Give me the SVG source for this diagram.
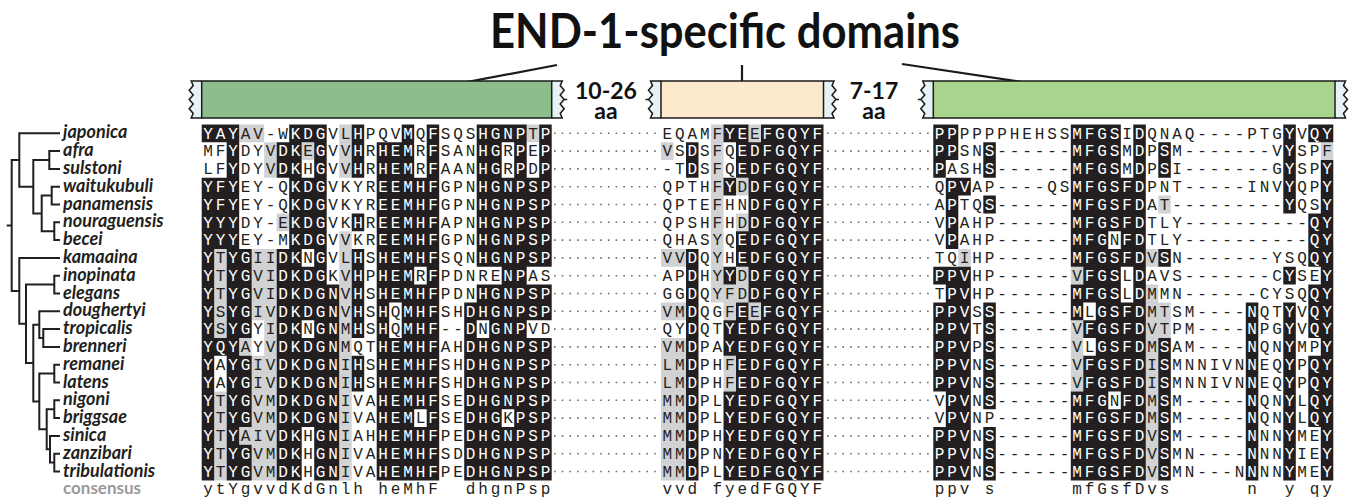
<svg xmlns="http://www.w3.org/2000/svg" width="1356" height="497" viewBox="0 0 1356 497">
<style>
.seq{font-family:"Liberation Mono","DejaVu Sans Mono",monospace;font-size:16px;letter-spacing:2.9px}
.sp{font-family:Lato,"Open Sans","Noto Sans",sans-serif;font-size:18px;font-weight:700;font-style:italic;fill:#231f20}
.cl{font-family:Lato,"Open Sans","Noto Sans",sans-serif;font-size:17px;font-weight:700;fill:#9a9a9a}
.k{fill:#231f20}
.g{fill:#d1d2d4}
.tree{fill:none;stroke:#231f20;stroke-width:2;stroke-linejoin:miter}
.dots{fill:none;stroke:#6d6d6d;stroke-width:1.6;stroke-dasharray:1.6 6.1}
.hd{font-family:Lato,"Open Sans","Noto Sans",sans-serif;font-weight:700;fill:#111}
.bar{stroke:#1a1a1a;stroke-width:1.5}
.cap{fill:#e7f2f7;stroke:#1a1a1a;stroke-width:1.5}
.call{fill:none;stroke:#1a1a1a;stroke-width:2.2}
</style>
<defs>
<path id="cz" d="M0 81H10.5L8.5 85.6L12.5 90.2L8.5 94.9L12.5 99.5L8.5 104.1L12.5 108.7L8.5 113.4L10.5 118H0"/>
<path id="ct" d="M0 81H10.5L8.5 85.6L12.5 90.2L8.5 94.9L12.5 99.5L8.5 104.1L12.5 108.7L8.5 113.4L10.5 118H0M12.5 99.5H15.5"/>
<clipPath id="kc"><use href="#k1"/><use href="#k2"/><use href="#k3"/></clipPath>
</defs>
<rect width="1356" height="497" fill="#fff"/>

<!-- panel letter, cut by the left edge -->
<text x="-22" y="25.5" font-family="Liberation Sans,Arial,sans-serif" font-size="28" font-weight="700" fill="#111">C</text>

<!-- title and callouts -->
<g id="title">
<text class="hd" x="490" y="48" font-size="48" textLength="470" lengthAdjust="spacingAndGlyphs">END-1-specific domains</text>
</g>
<g id="callouts"><path class="call" d="M557 65L377 99M742 65V99M902 64L1135 99"/></g>

<!-- domain bars -->
<g id="domain1">
<use href="#cz" class="cap" transform="translate(201.7 0) scale(-1 1)"/>
<use href="#ct" class="cap" transform="translate(551.7 0)"/>
<rect class="bar" x="201.7" y="81" width="350" height="37" fill="#8dbd8c"/>
</g>
<g id="domain2">
<use href="#ct" class="cap" transform="translate(661 0) scale(-1 1)"/>
<use href="#ct" class="cap" transform="translate(823.5 0)"/>
<rect class="bar" x="661" y="81" width="162.5" height="37" fill="#fde9cb"/>
</g>
<g id="domain3">
<use href="#ct" class="cap" transform="translate(933.3 0) scale(-1 1)"/>
<use href="#cz" class="cap" transform="translate(1335 0)"/>
<rect class="bar" x="933.3" y="81" width="401.7" height="37" fill="#a8d48e"/>
</g>
<g id="gap1">
<text class="hd" x="606" y="99" font-size="23" text-anchor="middle">10-26</text>
<text class="hd" x="606" y="119" font-size="23" text-anchor="middle">aa</text>
</g>
<g id="gap2">
<text class="hd" x="874" y="99" font-size="23" text-anchor="middle">7-17</text>
<text class="hd" x="874" y="119" font-size="23" text-anchor="middle">aa</text>
</g>

<!-- tree -->
<g id="tree">
<path class="tree" d="M6.7 225.4H11.7M19.3 160H11.7V290.9H19.3M60 133.3H19.3V186.7H33.3M49.3 160H33.3V213.4H41.7M60 151.1H49.3V168.9H60M51.7 195.6H41.7V231.2H54.3M60 186.7H51.7V204.5H60M60 222.3H54.3V240.1H60M60 257.9H19.3V323.8H26M54.3 284.6H26V363H33.3M60 275.7H54.3V293.5H60M39.3 324.65H33.3V401.4H39.3M60 311.3H39.3V338H43.3M60 329.1H43.3V346.9H60M54.3 373.6H39.3V429.2H46.7M60 364.7H54.3V382.5H60M54.3 409.2H46.7V449.25H50M60 400.3H54.3V418.1H60M60 435.9H50V462.6H54.3M60 453.7H54.3V471.5H60"/>
</g>

<!-- species names -->
<g id="labels">
<text class="sp" x="63" y="138.3">japonica</text>
<text class="sp" x="63" y="156.1">afra</text>
<text class="sp" x="63" y="173.9">sulstoni</text>
<text class="sp" x="63" y="191.7">waitukubuli</text>
<text class="sp" x="63" y="209.5">panamensis</text>
<text class="sp" x="63" y="227.3">nouraguensis</text>
<text class="sp" x="63" y="245.1">becei</text>
<text class="sp" x="63" y="262.9">kamaaina</text>
<text class="sp" x="63" y="280.7">inopinata</text>
<text class="sp" x="63" y="298.5">elegans</text>
<text class="sp" x="63" y="316.3">doughertyi</text>
<text class="sp" x="63" y="334.1">tropicalis</text>
<text class="sp" x="63" y="351.9">brenneri</text>
<text class="sp" x="63" y="369.7">remanei</text>
<text class="sp" x="63" y="387.5">latens</text>
<text class="sp" x="63" y="405.3">nigoni</text>
<text class="sp" x="63" y="423.1">briggsae</text>
<text class="sp" x="63" y="440.9">sinica</text>
<text class="sp" x="63" y="458.7">zanzibari</text>
<text class="sp" x="63" y="476.5">tribulationis</text>
<text class="cl" x="63" y="494.3">consensus</text>
</g>

<!-- shading: similar residues (gray), identical residues (black); one cell = 12.5 x 17.8 -->
<g id="shading">
<path class="g" transform="translate(201.7 124.4) scale(12.5 17.8)" d="M1 7h1v5h-1zM1 15h1v5h-1zM3 0h1v1h-1zM3 12h1v1h-1zM3 17h1v1h-1zM4 0h1v1h-1zM4 7h1v4h-1zM4 13h1v7h-1zM5 1h1v2h-1zM5 7h1v13h-1zM6 5h1v1h-1zM8 1h1v1h-1zM11 0h1v3h-1zM11 6h1v14h-1zM26 0h1v1h-1z"/>
<path id="k1" class="k" transform="translate(201.7 124.4) scale(12.5 17.8)" d="M0 0h1v1h-1zM0 3h1v17h-1zM1 0h1v1h-1zM1 3h1v4h-1zM1 12h1v1h-1zM2 0h1v20h-1zM3 7h1v5h-1zM3 13h1v4h-1zM3 18h1v2h-1zM6 1h1v2h-1zM6 7h1v13h-1zM7 0h1v20h-1zM8 0h1v1h-1zM8 3h1v4h-1zM8 8h1v3h-1zM8 12h1v5h-1zM9 0h1v20h-1zM10 9h1v11h-1zM12 0h1v3h-1zM12 5h1v1h-1zM12 7h1v5h-1zM12 13h1v2h-1zM14 1h1v19h-1zM15 1h1v9h-1zM15 12h1v8h-1zM16 0h1v20h-1zM17 3h1v5h-1zM17 9h1v7h-1zM17 17h1v3h-1zM18 0h1v20h-1zM21 10h1v10h-1zM22 0h1v8h-1zM22 9h1v2h-1zM22 12h1v8h-1zM23 0h1v8h-1zM23 9h1v11h-1zM24 0h1v1h-1zM24 3h1v13h-1zM24 17h1v3h-1zM25 0h1v20h-1zM26 3h1v5h-1zM26 9h1v2h-1zM26 12h1v8h-1zM27 0h1v8h-1zM27 9h1v2h-1zM27 12h1v8h-1z"/>
<path class="g" transform="translate(661 124.4) scale(12.5 17.8)" d="M0 1h1v1h-1zM0 7h2v1h-2zM0 10h2v1h-2zM0 12h2v8h-2zM4 0h1v10h-1zM5 9h1v2h-1zM5 13h1v2h-1zM6 3h1v1h-1zM6 5h1v1h-1zM6 8h1v2h-1zM7 0h1v1h-1zM7 10h1v1h-1z"/>
<path id="k2" class="k" transform="translate(661 124.4) scale(12.5 17.8)" d="M8 0h5v20h-5zM7 1h1v9h-1zM7 11h1v9h-1zM6 0h1v3h-1zM6 6h1v2h-1zM6 10h1v10h-1zM5 0h1v1h-1zM5 3h1v1h-1zM5 8h1v1h-1zM5 11h1v2h-1zM5 15h1v5h-1zM2 1h1v2h-1zM2 7h1v13h-1z"/>
<path class="g" transform="translate(933.3 124.4) scale(12.5 17.8)" d="M2 7h1v1h-1zM11 8h1v1h-1zM11 11h1v4h-1zM17 7h1v1h-1zM17 9h1v11h-1zM18 4h1v1h-1zM18 10h1v2h-1zM31 1h1v1h-1z"/>
<path id="k3" class="k" transform="translate(933.3 124.4) scale(12.5 17.8)" d="M0 0h1v3h-1zM0 8h1v1h-1zM0 10h1v5h-1zM0 17h1v3h-1zM1 0h1v2h-1zM1 3h1v4h-1zM1 8h1v12h-1zM2 3h1v1h-1zM2 8h1v12h-1zM4 1h1v2h-1zM4 4h1v1h-1zM4 10h1v6h-1zM4 17h1v3h-1zM11 0h1v8h-1zM11 9h1v2h-1zM11 15h1v5h-1zM12 0h1v10h-1zM12 11h1v1h-1zM12 13h1v7h-1zM13 0h1v20h-1zM14 0h1v6h-1zM14 7h1v8h-1zM14 16h1v4h-1zM15 3h1v5h-1zM15 10h1v10h-1zM16 0h1v20h-1zM18 1h1v2h-1zM18 7h1v1h-1zM18 12h1v8h-1zM25 10h1v10h-1zM28 0h1v5h-1zM28 8h1v1h-1zM28 10h1v10h-1zM30 0h1v1h-1zM30 5h1v3h-1zM30 9h1v3h-1zM30 13h1v4h-1zM31 0h1v1h-1zM31 2h1v18h-1z"/>
</g>

<!-- linker regions not shown -->
<g id="linkers"><path class="dots" d="M554 133.3H659M827 133.3H932M554 151.1H659M827 151.1H932M554 168.9H659M827 168.9H932M554 186.7H659M827 186.7H932M554 204.5H659M827 204.5H932M554 222.3H659M827 222.3H932M554 240.1H659M827 240.1H932M554 257.9H659M827 257.9H932M554 275.7H659M827 275.7H932M554 293.5H659M827 293.5H932M554 311.3H659M827 311.3H932M554 329.1H659M827 329.1H932M554 346.9H659M827 346.9H932M554 364.7H659M827 364.7H932M554 382.5H659M827 382.5H932M554 400.3H659M827 400.3H932M554 418.1H659M827 418.1H932M554 435.9H659M827 435.9H932M554 453.7H659M827 453.7H932M554 471.5H659M827 471.5H932"/></g>

<!-- residues: dark everywhere, white where shaded black -->
<g fill="#231f20">
<g id="seqtxt" class="seq">
<text>
<tspan x="203.15" y="138.6">YAYAV-WKDGVLHPQVMQFSQSHGNPTP</tspan>
<tspan x="203.15" y="156.4">MFYDYVDKEGVVHRHEMRFSANHGRPEP</tspan>
<tspan x="203.15" y="174.2">LFYDYVDKHGVVHRHEMRFAANHGRPDP</tspan>
<tspan x="203.15" y="192">YFYEY-QKDGVKYREEMHFGPNHGNPSP</tspan>
<tspan x="203.15" y="209.8">YFYEY-QKDGVKYREEMHFGPNHGNPSP</tspan>
<tspan x="203.15" y="227.6">YYYDY-EKDGVKHREEMHFAPNHGNPSP</tspan>
<tspan x="203.15" y="245.4">YYYEY-MKDGVVKREEMHFGPNHGNPSP</tspan>
<tspan x="203.15" y="263.2">YTYGIIDKNGVLHSHEMHFSQNHGNPSP</tspan>
<tspan x="203.15" y="281">YTYGVIDKDGKVHPHEMRFPDNRENPAS</tspan>
<tspan x="203.15" y="298.8">YTYGVIDKDGNVHSHEMHFPDNHGNPSP</tspan>
<tspan x="203.15" y="316.6">YSYGIVDKDGNVHSHQMHFSHDHGNPSP</tspan>
<tspan x="203.15" y="334.4">YSYGYIDKNGNMHSHQMHF--DNGNPVD</tspan>
<tspan x="203.15" y="352.2">YQYAYVDKDGNMQTHEMHFAHDHGNPSP</tspan>
<tspan x="203.15" y="370">YAYGIVDKDGNIHSHEMHFSHDHGNPSP</tspan>
<tspan x="203.15" y="387.8">YAYGIVDKDGNIHSHEMHFSHDHGNPSP</tspan>
<tspan x="203.15" y="405.6">YTYGVMDKDGNIVAHEMHFSEDHGNPSP</tspan>
<tspan x="203.15" y="423.4">YTYGVMDKDGNIVAHEMLFSEDHGKPSP</tspan>
<tspan x="203.15" y="441.2">YTYAIVDKHGNIAHHEMHFPEDHGNPSP</tspan>
<tspan x="203.15" y="459">YTYGVMDKHGNIVAHEMHFSDDHGNPSP</tspan>
<tspan x="203.15" y="476.8">YTYGVMDKHGNIVAHEMHFPEDHGNPSP</tspan>
</text>
<text>
<tspan x="662.45" y="138.6">EQAMFYEEFGQYF</tspan>
<tspan x="662.45" y="156.4">VSDSFQEDFGQYF</tspan>
<tspan x="662.45" y="174.2">-TDSFQEDFGQYF</tspan>
<tspan x="662.45" y="192">QPTHFYDDFGQYF</tspan>
<tspan x="662.45" y="209.8">QPTEFHNDFGQYF</tspan>
<tspan x="662.45" y="227.6">QPSHFHDDFGQYF</tspan>
<tspan x="662.45" y="245.4">QHASYQEDFGQYF</tspan>
<tspan x="662.45" y="263.2">VVDQYHEDFGQYF</tspan>
<tspan x="662.45" y="281">APDHYYDDFGQYF</tspan>
<tspan x="662.45" y="298.8">GGDQYFDDFGQYF</tspan>
<tspan x="662.45" y="316.6">VMDQGFEEFGQYF</tspan>
<tspan x="662.45" y="334.4">QYDQTYEDFGQYF</tspan>
<tspan x="662.45" y="352.2">VMDPAYEDFGQYF</tspan>
<tspan x="662.45" y="370">LMDPHFEDFGQYF</tspan>
<tspan x="662.45" y="387.8">LMDPHFEDFGQYF</tspan>
<tspan x="662.45" y="405.6">MMDPLYEDFGQYF</tspan>
<tspan x="662.45" y="423.4">MMDPLYEDFGQYF</tspan>
<tspan x="662.45" y="441.2">MMDPHYEDFGQYF</tspan>
<tspan x="662.45" y="459">MMDPNYEDFGQYF</tspan>
<tspan x="662.45" y="476.8">MMDPLYEDFGQYF</tspan>
</text>
<text>
<tspan x="934.75" y="138.6">PPPPPPHEHSSMFGSIDQNAQ----PTGYVQY</tspan>
<tspan x="934.75" y="156.4">PPSNS------MFGSMDPSM-------VYSPF</tspan>
<tspan x="934.75" y="174.2">PASHS------MFGSMDPSI-------GYSPY</tspan>
<tspan x="934.75" y="192">QPVAP----QSMFGSFDPNT-----INVYQPY</tspan>
<tspan x="934.75" y="209.8">APTQS------MFGSFDAT---------YQSY</tspan>
<tspan x="934.75" y="227.6">VPAHP------MFGSFDTLY----------QY</tspan>
<tspan x="934.75" y="245.4">VPAHP------MFGNFDTLY----------QY</tspan>
<tspan x="934.75" y="263.2">TQIHP------MFGSFDVSN-------YSQQY</tspan>
<tspan x="934.75" y="281">PPVHP------VFGSLDAVS-------CYSEY</tspan>
<tspan x="934.75" y="298.8">TPVHP------MFGSLDMMN------CYSQQY</tspan>
<tspan x="934.75" y="316.6">PPVSS------MLGSFDMTSM----NQTYVQY</tspan>
<tspan x="934.75" y="334.4">PPVTS------VFGSFDVTPM----NPGYVQY</tspan>
<tspan x="934.75" y="352.2">PPVPS------VLGSFDMSAM----NQNYMPY</tspan>
<tspan x="934.75" y="370">PPVNS------VFGSFDISMNNIVNNEQYPQY</tspan>
<tspan x="934.75" y="387.8">PPVNS------VFGSFDISMNNIVNNEQYPQY</tspan>
<tspan x="934.75" y="405.6">VPVNS------MFGNFDMSM-----NQNYLQY</tspan>
<tspan x="934.75" y="423.4">VPVNP------MFGSFDMSM-----NQNYLQY</tspan>
<tspan x="934.75" y="441.2">PPVNS------MFGSFDVSM-----NNNYMEY</tspan>
<tspan x="934.75" y="459">PPVNS------MFGSFDVSMN----NNNYIEY</tspan>
<tspan x="934.75" y="476.8">PPVNS------MFGSFDVSMN---NNNNYMEY</tspan>
</text>
</g>
</g>
<use href="#seqtxt" fill="#fff" clip-path="url(#kc)"/>

<!-- consensus line -->
<g id="consensus" class="seq" fill="#231f20">
<text x="203.15" y="494.3" xml:space="preserve">ytYgvvdKdGnlh heMhF  dhgnPsp</text>
<text x="662.45" y="494.3" xml:space="preserve">vvd fyedFGQYF</text>
<text x="934.75" y="494.3" xml:space="preserve">ppv s      mfGsfDvs      n  y qy</text>
</g>
</svg>
